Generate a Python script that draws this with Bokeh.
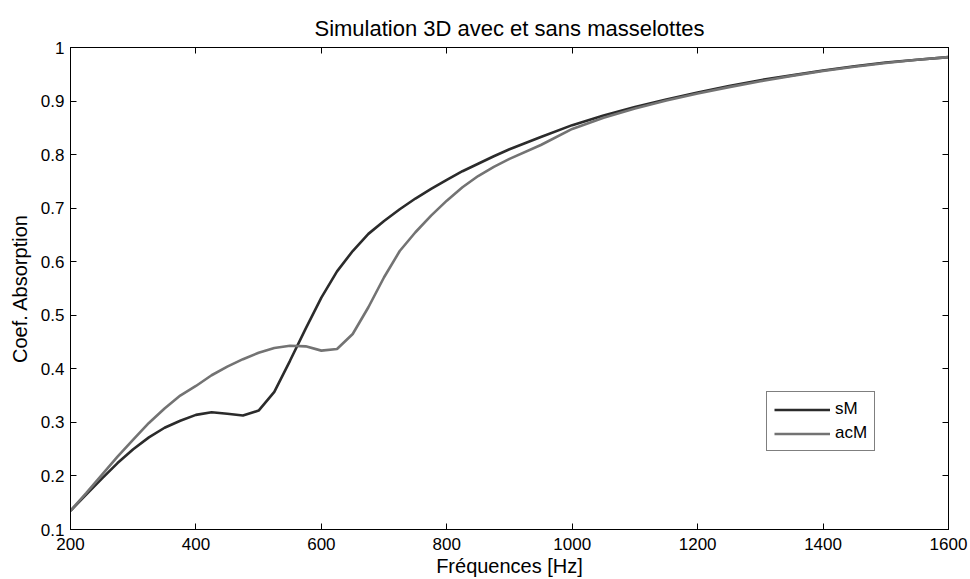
from bokeh.plotting import figure
from bokeh.models import LinearAxis, FixedTicker, Range1d, Legend, LegendItem
from bokeh.embed import file_html
from bokeh.resources import INLINE

freq = [200, 225, 250, 275, 300, 325, 350, 375, 400, 425, 450, 475, 500, 525, 550,
        575, 600, 625, 650, 675, 700, 725, 750, 775, 800, 825, 850, 875, 900,
        950, 1000, 1050, 1100, 1150, 1200, 1250, 1300, 1350, 1400, 1450, 1500, 1550, 1600]

sM = [0.135, 0.165, 0.195, 0.224, 0.250, 0.272, 0.290, 0.303, 0.314, 0.319, 0.316, 0.313,
      0.322, 0.357, 0.415, 0.475, 0.533, 0.582, 0.620, 0.652, 0.676, 0.698, 0.718, 0.736,
      0.753, 0.769, 0.783, 0.797, 0.810, 0.833, 0.855, 0.873, 0.889, 0.903, 0.916, 0.928,
      0.939, 0.948, 0.957, 0.965, 0.972, 0.977, 0.982]

acM = [0.135, 0.168, 0.202, 0.236, 0.268, 0.299, 0.326, 0.350, 0.368, 0.388, 0.404, 0.418,
       0.430, 0.439, 0.443, 0.442, 0.434, 0.437, 0.465, 0.515, 0.571, 0.620, 0.655, 0.686,
       0.714, 0.739, 0.760, 0.777, 0.792, 0.818, 0.848, 0.869, 0.886, 0.901, 0.914, 0.926,
       0.937, 0.947, 0.956, 0.964, 0.971, 0.977, 0.982]

x_ticks = [200, 400, 600, 800, 1000, 1200, 1400, 1600]
y_ticks = [0.1, 0.2, 0.3, 0.4, 0.5, 0.6, 0.7, 0.8, 0.9, 1.0]
y_tick_labels = ["0.1", "0.2", "0.3", "0.4", "0.5", "0.6", "0.7", "0.8", "0.9", "1"]

FONT = "Liberation Sans"

p = figure(width=970, height=579, output_backend="svg", toolbar_location=None,
           x_range=Range1d(200, 1600), y_range=Range1d(0.1, 1.0),
           min_border_left=70, min_border_right=22, min_border_top=47, min_border_bottom=50,
           title="Simulation 3D avec et sans masselottes")

p.title.align = "center"
p.title.text_font = FONT
p.title.text_font_size = "22px"
p.title.text_font_style = "normal"
p.title.text_color = "black"
p.title.standoff = 13

p.xgrid.visible = False
p.ygrid.visible = False
p.outline_line_color = "black"
p.outline_line_width = 1

for ax in (p.xaxis[0], p.yaxis[0]):
    ax.major_tick_in = 6
    ax.major_tick_out = 0
    ax.minor_tick_in = 0
    ax.minor_tick_out = 0
    ax.axis_line_color = "black"
    ax.major_tick_line_color = "black"
    ax.major_label_text_font = FONT
    ax.major_label_text_font_size = "17px"
    ax.major_label_text_color = "black"
    ax.axis_label_text_font = FONT
    ax.axis_label_text_font_size = "20px"
    ax.axis_label_text_font_style = "normal"
    ax.axis_label_text_color = "black"

p.xaxis[0].ticker = FixedTicker(ticks=x_ticks)
p.yaxis[0].ticker = FixedTicker(ticks=y_ticks)
p.xaxis[0].major_label_overrides = {t: str(t) for t in x_ticks}
p.yaxis[0].major_label_overrides = dict(zip(y_ticks, y_tick_labels))
p.xaxis[0].axis_label = "Fréquences [Hz]"
p.yaxis[0].axis_label = "Coef. Absorption"
p.xaxis[0].major_label_standoff = 8
p.xaxis[0].axis_label_standoff = 2
p.yaxis[0].major_label_standoff = 6
p.yaxis[0].axis_label_standoff = 7

# mirrored tick marks (box on), no labels drawn
top = LinearAxis(ticker=FixedTicker(ticks=x_ticks), major_tick_in=6, major_tick_out=0,
                 minor_tick_in=0, minor_tick_out=0, major_label_text_font_size="1px",
                 major_label_text_color=None, major_label_standoff=0, axis_line_color="black")
right = LinearAxis(ticker=FixedTicker(ticks=y_ticks), major_tick_in=6, major_tick_out=0,
                   minor_tick_in=0, minor_tick_out=0, major_label_text_font_size="1px",
                   major_label_text_color=None, major_label_standoff=0, axis_line_color="black")
p.add_layout(top, "above")
p.add_layout(right, "right")

r1 = p.line(freq, sM, line_color="#2b2b2b", line_width=2.6)
r2 = p.line(freq, acM, line_color="#737373", line_width=2.6)

legend = Legend(items=[LegendItem(label="sM", renderers=[r1]),
                       LegendItem(label="acM", renderers=[r2])],
                location=(696, 78))
legend.label_text_font = FONT
legend.label_text_font_size = "17px"
legend.label_text_color = "black"
legend.glyph_width = 56
legend.glyph_height = 19
legend.label_height = 19
legend.label_standoff = 5
legend.spacing = 4
legend.padding = 7
legend.margin = 0
legend.border_line_color = "black"
legend.border_line_width = 1
legend.background_fill_alpha = 1
p.add_layout(legend, "center")

open("out.html", "w").write(file_html(p, INLINE))
